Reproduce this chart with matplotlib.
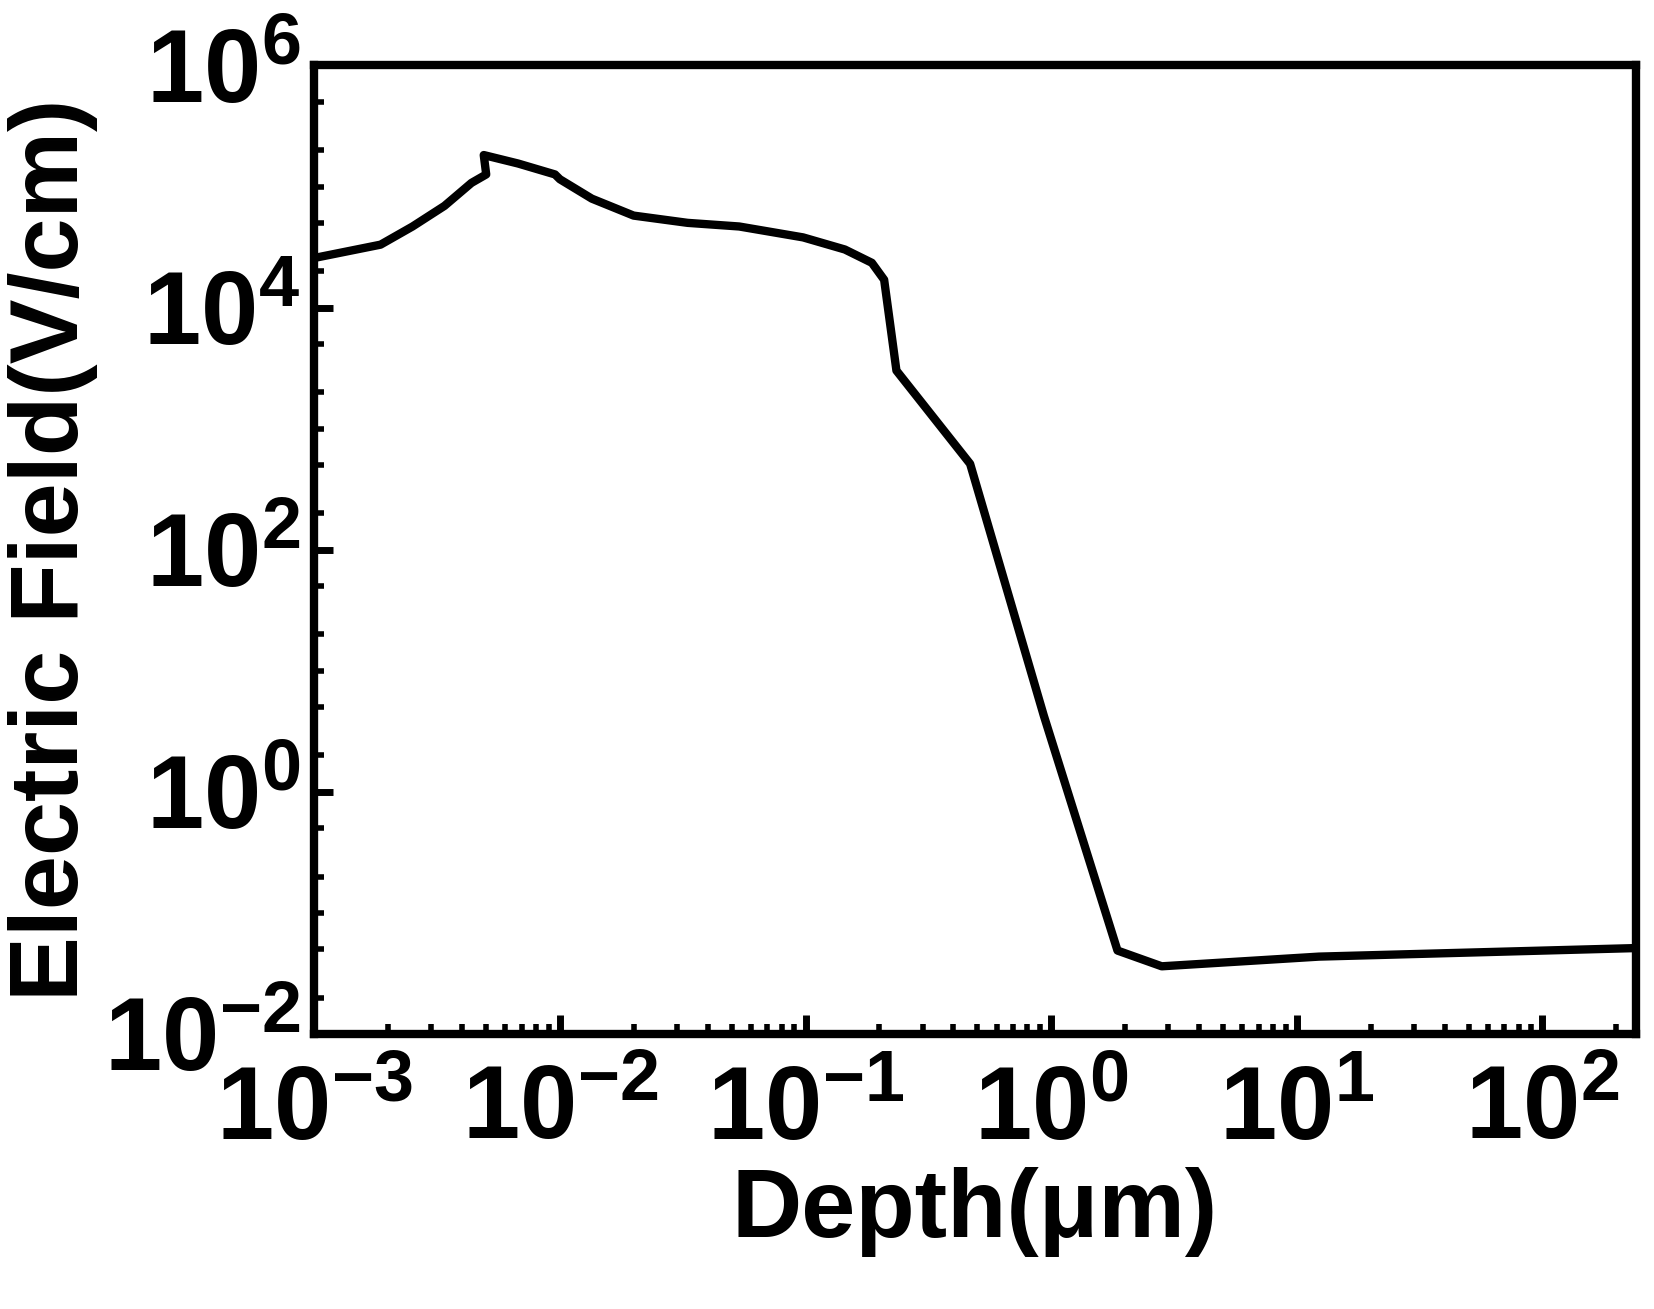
import matplotlib
matplotlib.use("Agg")
import matplotlib.pyplot as plt
import numpy as np
from matplotlib.ticker import LogLocator, FixedLocator, NullFormatter

plt.rcParams['font.family'] = ['Liberation Sans', 'DejaVu Sans']
plt.rcParams['font.weight'] = 'bold'
plt.rcParams['mathtext.fontset'] = 'custom'
plt.rcParams['mathtext.rm'] = 'Liberation Sans:bold'
plt.rcParams['mathtext.bf'] = 'Liberation Sans:bold'
plt.rcParams['mathtext.default'] = 'rm'
plt.rcParams['axes.unicode_minus'] = False

log_depth = [-3.0, -2.73, -2.60, -2.47, -2.36, -2.30, -2.31, -2.17, -2.02, -2.0, -1.87,
             -1.70, -1.48, -1.27, -1.01, -0.84, -0.73, -0.68, -0.63, -0.33, -0.03,
             0.27, 0.45, 1.09, 2.37]
log_field = [4.41, 4.52, 4.67, 4.84, 5.03, 5.10, 5.26, 5.19, 5.10, 5.06, 4.90,
             4.76, 4.70, 4.67, 4.58, 4.48, 4.37, 4.23, 3.48, 2.71, 0.63,
             -1.31, -1.44, -1.36, -1.29]
depth = 10.0 ** np.array(log_depth)
field = 10.0 ** np.array(log_field)

fig = plt.figure(figsize=(16.54, 13.09), dpi=100)
ax = fig.add_axes([0.19, 0.21, 0.799, 0.74])
ax.plot(depth, field, color='black', lw=6)
ax.set_xscale('log'); ax.set_yscale('log')
ax.set_xlim(1e-3, 10 ** 2.38)
ax.set_ylim(1e-2, 1e6)

ax.xaxis.set_major_locator(FixedLocator([10.0 ** k for k in range(-3, 3)]))
ax.set_xticklabels([r'$10^{%d}$' % k for k in range(-3, 3)])
ax.xaxis.set_minor_locator(LogLocator(base=10, subs=np.arange(2, 10), numticks=20))
ax.xaxis.set_minor_formatter(NullFormatter())
ax.yaxis.set_major_locator(FixedLocator([10.0 ** k for k in range(-2, 7, 2)]))
ax.set_yticklabels([r'$10^{%d}$' % k for k in range(-2, 7, 2)])
ax.yaxis.set_minor_locator(FixedLocator([10.0 ** k for k in range(-1, 6, 2)] +
                                        [a * 10.0 ** k for k in range(-2, 6) for a in (2, 5)]))
ax.yaxis.set_minor_formatter(NullFormatter())

ax.tick_params(which='major', direction='in', length=14, width=5, labelsize=74)
ax.tick_params(axis='x', which='major', pad=22)
ax.tick_params(axis='y', which='major', pad=10)
ax.tick_params(which='minor', direction='in', length=7, width=4)
for s in ax.spines.values():
    s.set_linewidth(6)
ax.set_xlabel('Depth(μm)', fontsize=70, fontweight='bold', labelpad=4)
ax.set_ylabel('Electric Field(V/cm)', fontsize=70, fontweight='bold', labelpad=4)
fig.savefig('out.png', dpi=100)
